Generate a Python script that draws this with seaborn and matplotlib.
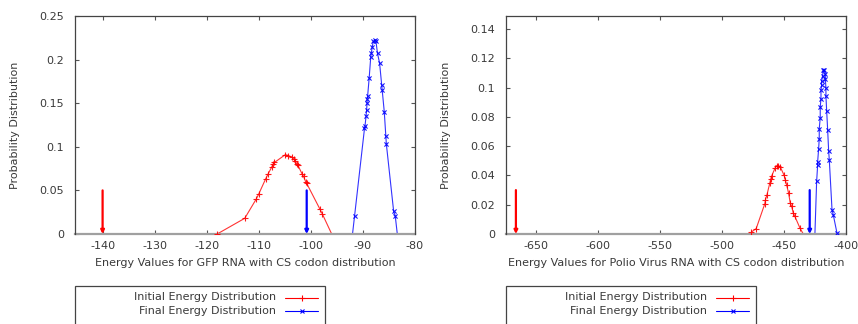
import matplotlib
matplotlib.use("Agg")
import matplotlib.pyplot as plt
from matplotlib.lines import Line2D
from matplotlib.patches import Rectangle
import seaborn as sns
import pandas as pd

# ---------------- data ----------------
gfp_init_x = [-118.0, -112.7, -110.5, -110.0, -108.7, -108.2, -107.5, -107.3, -107.0,
              -104.9, -104.3, -103.6, -103.3, -103.0, -102.7, -102.5, -101.7, -101.4,
              -101.0, -100.8, -98.3, -97.8, -96.0]
gfp_init_y = [0.0, 0.018, 0.040, 0.046, 0.063, 0.069, 0.077, 0.080, 0.082,
              0.091, 0.090, 0.088, 0.086, 0.084, 0.080, 0.079, 0.069, 0.066,
              0.060, 0.058, 0.029, 0.023, 0.0]

gfp_final_x = [-92.0, -91.6, -89.7, -89.6, -89.4, -89.3, -89.2, -89.2, -89.1, -88.8,
               -88.5, -88.4, -88.2, -88.0, -87.7, -87.5, -87.2, -86.8, -86.4, -86.3,
               -85.9, -85.6, -85.5, -84.1, -83.8, -83.4]
gfp_final_y = [0.0, 0.021, 0.121, 0.124, 0.135, 0.142, 0.150, 0.155, 0.158, 0.179,
               0.203, 0.207, 0.215, 0.221, 0.222, 0.221, 0.207, 0.196, 0.171, 0.165,
               0.140, 0.112, 0.103, 0.026, 0.021, 0.0]

polio_init_x = [-476.3, -472.5, -465.5, -465.0, -463.9, -461.5, -460.7, -460.1, -457.2,
                -455.8, -454.5, -453.1, -449.9, -449.1, -448.0, -446.4, -445.0, -443.9,
                -442.6, -441.3, -437.2, -434.5]
polio_init_y = [0.0014, 0.0037, 0.0208, 0.0235, 0.0265, 0.0349, 0.0377, 0.0395, 0.0452,
                0.0468, 0.0468, 0.0459, 0.0400, 0.0372, 0.0338, 0.0281, 0.0212, 0.0190,
                0.0144, 0.0121, 0.0041, 0.0]

polio_final_x = [-425.1, -423.7, -422.9, -422.9, -422.1, -421.6, -421.6, -420.8, -420.8,
                 -420.2, -420.2, -419.7, -419.7, -418.9, -418.3, -417.5, -416.7, -416.7,
                 -416.2, -416.2, -415.6, -414.8, -414.0, -413.5, -411.3, -410.3, -407.3]
polio_final_y = [0.0, 0.0361, 0.0470, 0.0493, 0.0582, 0.0651, 0.0719, 0.0795, 0.0870,
                 0.0925, 0.0984, 0.1016, 0.1046, 0.1080, 0.1121, 0.1121, 0.1092, 0.1057,
                 0.1000, 0.0943, 0.0840, 0.0710, 0.0566, 0.0509, 0.0167, 0.0132, 0.0007]

gfp_arrow_x = [-140.0, -100.8]
gfp_arrow_top = 0.05
polio_arrow_x = [-666.5, -429.3]
polio_arrow_top = 0.03

series_labels = ["Initial Energy Distribution", "Final Energy Distribution"]
gfp_xlabel = "Energy Values for GFP RNA with CS codon distribution"
polio_xlabel = "Energy Values for Polio Virus RNA with CS codon distribution"
ylabel = "Probability Distribution"

gfp_xticks = [-140, -130, -120, -110, -100, -90, -80]
gfp_yticks = [0, 0.05, 0.1, 0.15, 0.2, 0.25]
gfp_yticklabels = ["0", "0.05", "0.1", "0.15", "0.2", "0.25"]
polio_xticks = [-650, -600, -550, -500, -450, -400]
polio_yticks = [0, 0.02, 0.04, 0.06, 0.08, 0.1, 0.12, 0.14]
polio_yticklabels = ["0", "0.02", "0.04", "0.06", "0.08", "0.1", "0.12", "0.14"]

# ---------------- style ----------------
sns.set_style("ticks")
plt.rcParams["font.family"] = ["DejaVu Sans"]
TXT = "#3a3a3a"
FS = 8.0
RED = "#ff0000"
BLUE = "#0000ff"

fig = plt.figure(figsize=(8.58, 3.24), dpi=100)
W, H = 858.0, 324.0
axL = fig.add_axes([75 / W, (H - 234) / H, (415 - 75) / W, (234 - 16) / H])
axR = fig.add_axes([506 / W, (H - 234) / H, (846 - 506) / W, (234 - 16) / H])


def draw(ax, ix, iy, fx, fy, arrows, atop, xlim, ylim, xticks, yticks, ytl, xlabel,
         keep_first_init):
    dfi = pd.DataFrame({"x": ix, "y": iy})
    dff = pd.DataFrame({"x": fx, "y": fy})
    sns.lineplot(data=dfi, x="x", y="y", ax=ax, color=RED, lw=0.8, sort=False,
                 estimator=None, alpha=0.8)
    sns.lineplot(data=dff, x="x", y="y", ax=ax, color=BLUE, lw=0.8, sort=False,
                 estimator=None, alpha=0.8)
    # markers: the zero-valued curve ends carry no visible symbol
    mask_i = dfi["y"] > 0
    if keep_first_init:
        mask_i.iloc[0] = True
    mi = dfi[mask_i]
    mf = dff[dff["y"] > 0]
    sns.scatterplot(data=mi, x="x", y="y", ax=ax, marker="+", color=RED, s=16,
                    linewidth=0.8, zorder=3, alpha=0.9)
    sns.scatterplot(data=mf, x="x", y="y", ax=ax, marker="x", color=BLUE, s=9,
                    linewidth=0.8, zorder=3, alpha=0.9)
    for xa, col in zip(arrows, [RED, BLUE]):
        ax.annotate("", xy=(xa, 0), xytext=(xa, atop),
                    arrowprops=dict(arrowstyle="-|>", color=col, lw=1.6,
                                    mutation_scale=5, shrinkA=0, shrinkB=0),
                    zorder=4, annotation_clip=False)
    ax.set_xlim(*xlim)
    ax.set_ylim(*ylim)
    ax.set_xticks(xticks)
    ax.set_xticklabels([str(t) for t in xticks])
    ax.set_yticks(yticks)
    ax.set_yticklabels(ytl)
    ax.set_xlabel(xlabel, fontsize=FS, color=TXT, labelpad=5)
    ax.set_ylabel(ylabel, fontsize=FS, color=TXT, labelpad=14)
    ax.tick_params(direction="in", length=3, width=0.8, colors="#555555",
                   labelcolor=TXT, labelsize=FS, top=True, right=True, pad=5)
    ax.tick_params(axis="y", pad=8)
    for s in ["top", "left", "right"]:
        ax.spines[s].set_color("#444444")
        ax.spines[s].set_linewidth(0.9)
    ax.spines["bottom"].set_color("#a0a0a0")
    ax.spines["bottom"].set_linewidth(1.6)
    ax.spines["bottom"].set_zorder(2)


draw(axL, gfp_init_x, gfp_init_y, gfp_final_x, gfp_final_y, gfp_arrow_x,
     gfp_arrow_top, (-145.3, -80), (0, 0.25), gfp_xticks, gfp_yticks,
     gfp_yticklabels, gfp_xlabel, True)
draw(axR, polio_init_x, polio_init_y, polio_final_x, polio_final_y, polio_arrow_x,
     polio_arrow_top, (-674.5, -400), (0, 0.149), polio_xticks, polio_yticks,
     polio_yticklabels, polio_xlabel, False)


# ---------------- gnuplot-style legends ----------------
def legend(x0, x1, text_right, s0, s1):
    fig.add_artist(Rectangle((x0 / W, -0.1), (x1 - x0) / W, 0.1 + (H - 286) / H,
                             transform=fig.transFigure, fill=False,
                             edgecolor="#444444", lw=0.9, clip_on=False))
    for lab, yy, col, mk, ms in zip(series_labels, [297.5, 310.5], [RED, BLUE],
                                    ["+", "x"], [4, 3]):
        fig.text(text_right / W, (H - yy) / H, lab, ha="right", va="center",
                 fontsize=FS, color=TXT)
        fig.add_artist(Line2D([s0 / W, s1 / W], [(H - yy) / H] * 2,
                              transform=fig.transFigure, color=col, lw=0.8))
        fig.add_artist(Line2D([(s0 + s1) / 2 / W], [(H - yy) / H],
                              transform=fig.transFigure, color=col, lw=0,
                              marker=mk, markersize=ms, markeredgewidth=0.8))


legend(75, 325, 276, 285, 318)
legend(506, 756, 707, 716, 749)

fig.savefig("out.png", dpi=100)
